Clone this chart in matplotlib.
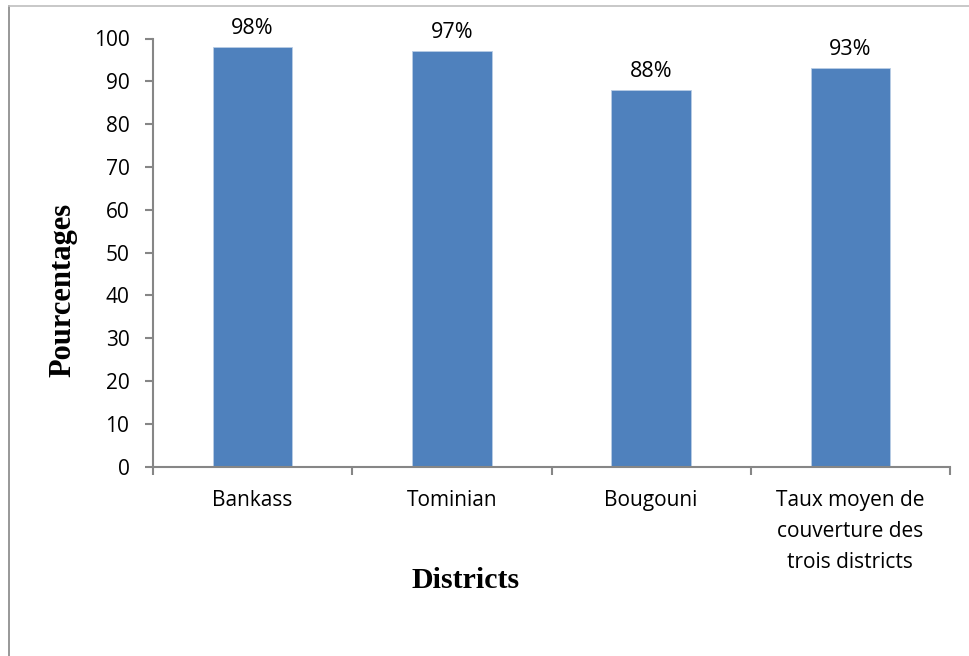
import numpy as np
import matplotlib.pyplot as plt
from matplotlib.lines import Line2D

districts = ['Bankass', 'Tominian', 'Bougouni',
             'Taux moyen de\ncouverture des\ntrois districts']
couverture = [98, 97, 88, 93]
yticks = [0, 10, 20, 30, 40, 50, 60, 70, 80, 90, 100]

sans = ['Open Sans', 'DejaVu Sans']
serif = ['Liberation Serif', 'DejaVu Serif']
grey = '#868686'

fig = plt.figure(figsize=(9.69, 6.56), dpi=100)
ax = fig.add_axes([153/969, 1 - 466.7/656, (950 - 153)/969, (466.7 - 38.5)/656])

x = np.arange(len(districts))
bars = ax.bar(x, couverture, width=0.40, color='#4F81BD',
              edgecolor='#B9CDE5', linewidth=0.6, zorder=2)
for b, v in zip(bars, couverture):
    ax.annotate(f'{v}%', (b.get_x() + b.get_width()/2, v),
                xytext=(0, 6), textcoords='offset points',
                ha='center', va='bottom', fontsize=15.5, family=sans)

ax.set_xlim(-0.5, len(districts) - 0.5)
ax.set_ylim(0, 100)
ax.set_yticks(yticks)
ax.set_xticks(x)
ax.set_xticklabels(districts, family=sans, fontsize=15, linespacing=1.6, va='top')
ax.set_xticks(np.arange(len(districts) + 1) - 0.5, minor=True)
ax.tick_params(axis='x', which='major', length=0, pad=17)
ax.tick_params(axis='x', which='minor', length=6, color=grey, width=1.5, direction='out')
ax.tick_params(axis='y', length=6, color=grey, width=1.5, pad=11, labelsize=15)
for lab in ax.get_yticklabels():
    lab.set_family(sans)

for s in ['top', 'right']:
    ax.spines[s].set_visible(False)
for s in ['left', 'bottom']:
    ax.spines[s].set_color(grey)
    ax.spines[s].set_linewidth(1.5)

fig.text(466/969, 1 - 580/656, 'Districts', ha='center', va='center',
         family=serif, fontweight='bold', fontsize=21.5)
fig.text(63/969, 1 - 290/656, 'Pourcentages', ha='center', va='center',
         rotation=90, family=serif, fontweight='bold', fontsize=22)

# frame around the chart area (top and left edges)
fig.add_artist(Line2D([8.5/969, 8.5/969], [0, 1 - 6/656], transform=fig.transFigure,
                      color=grey, linewidth=1.2))
fig.add_artist(Line2D([8.5/969, 1], [1 - 6/656, 1 - 6/656], transform=fig.transFigure,
                      color='#BFBFBF', linewidth=1.2))

fig.savefig('out.png', dpi=100)
